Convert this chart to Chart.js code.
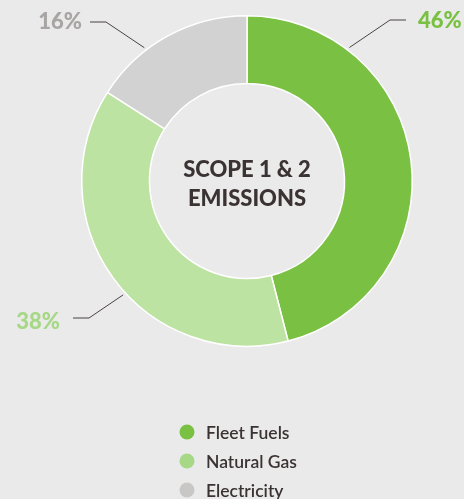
<!DOCTYPE html>
<html lang="en">
<head>
    <meta charset="UTF-8">
    <title>Scope 1 & 2 Emissions</title>
    <script src="https://cdn.jsdelivr.net/npm/chart.js"></script>
    <style>
        html, body { margin: 0; padding: 0; background: #eaeaea; }
        .wrap { position: relative; width: 464px; height: 499px; }
    </style>
</head>
<body>
    <div class="wrap">
        <canvas id="emissionsChart" width="464" height="499"></canvas>
    </div>

    <script>
        // Chart data
        const categories = ['Fleet Fuels', 'Natural Gas', 'Electricity'];
        const shares = [46, 38, 16];
        const sliceColors = ['#7ac143', '#bde3a2', '#d2d2d2'];
        const legendColors = ['#7ac143', '#a6d886', '#c9c6c6'];
        const labelColors = ['#7ac143', '#a6d886', '#a9a5a5'];
        const centerLines = ['SCOPE 1 & 2', 'EMISSIONS'];

        const textDark = '#3b3333';
        const fontFamily = 'Lato, "Open Sans", sans-serif';

        // leader lines: angle on the ring (deg, clockwise from top), elbow and label side
        const leaders = [
            { angle: 37.5, elbow: [390, 20], end: [406, 20], textX: 418, textY: 21, align: 'left' },
            { angle: -132.6, elbow: [89, 318], end: [73, 318], textX: 60, textY: 322, align: 'right' },
            { angle: -37.6, elbow: [106, 22], end: [90, 22], textX: 82, textY: 22, align: 'right' }
        ];

        const decorPlugin = {
            id: 'decor',
            afterDraw(chart) {
                const c = chart.ctx;
                const meta = chart.getDatasetMeta(0);
                const arc = meta.data[0];
                const cx = arc.x, cy = arc.y, r = arc.outerRadius;

                c.save();
                // center title
                c.fillStyle = textDark;
                c.font = '900 22px ' + fontFamily;
                c.textAlign = 'center';
                c.textBaseline = 'middle';
                c.fillText(centerLines[0], cx, cy - 11);
                c.fillText(centerLines[1], cx, cy + 18);

                // percentage labels with leader lines
                leaders.forEach((ld, i) => {
                    const a = ld.angle * Math.PI / 180;
                    const sx = cx + (r + 3) * Math.sin(a);
                    const sy = cy - (r + 3) * Math.cos(a);
                    c.strokeStyle = '#4a4242';
                    c.lineWidth = 1;
                    c.beginPath();
                    c.moveTo(sx, sy);
                    c.lineTo(ld.elbow[0], ld.elbow[1]);
                    c.lineTo(ld.end[0], ld.end[1]);
                    c.stroke();

                    c.fillStyle = labelColors[i];
                    c.font = '900 22px ' + fontFamily;
                    c.textAlign = ld.align;
                    c.textBaseline = 'middle';
                    c.fillText(shares[i] + '%', ld.textX, ld.textY);
                });

                // legend
                c.font = '600 17.5px ' + fontFamily;
                c.textAlign = 'left';
                c.textBaseline = 'middle';
                categories.forEach((name, i) => {
                    const y = 432 + i * 29;
                    c.fillStyle = legendColors[i];
                    c.beginPath();
                    c.arc(187, y, 7.5, 0, Math.PI * 2);
                    c.fill();
                    c.fillStyle = textDark;
                    c.fillText(name, 206, y + 1);
                });
                c.restore();
            }
        };

        const ctx = document.getElementById('emissionsChart').getContext('2d');
        const chart = new Chart(ctx, {
            type: 'doughnut',
            data: {
                labels: categories,
                datasets: [{
                    data: shares,
                    backgroundColor: sliceColors,
                    borderColor: '#ffffff',
                    borderWidth: 1.5,
                    hoverOffset: 0
                }]
            },
            options: {
                responsive: false,
                animation: false,
                cutout: '59%',
                layout: {
                    padding: { left: 81, right: 51, top: 15, bottom: 152 }
                },
                plugins: {
                    legend: { display: false },
                    tooltip: { enabled: false }
                }
            },
            plugins: [decorPlugin]
        });
    </script>
</body>
</html>
